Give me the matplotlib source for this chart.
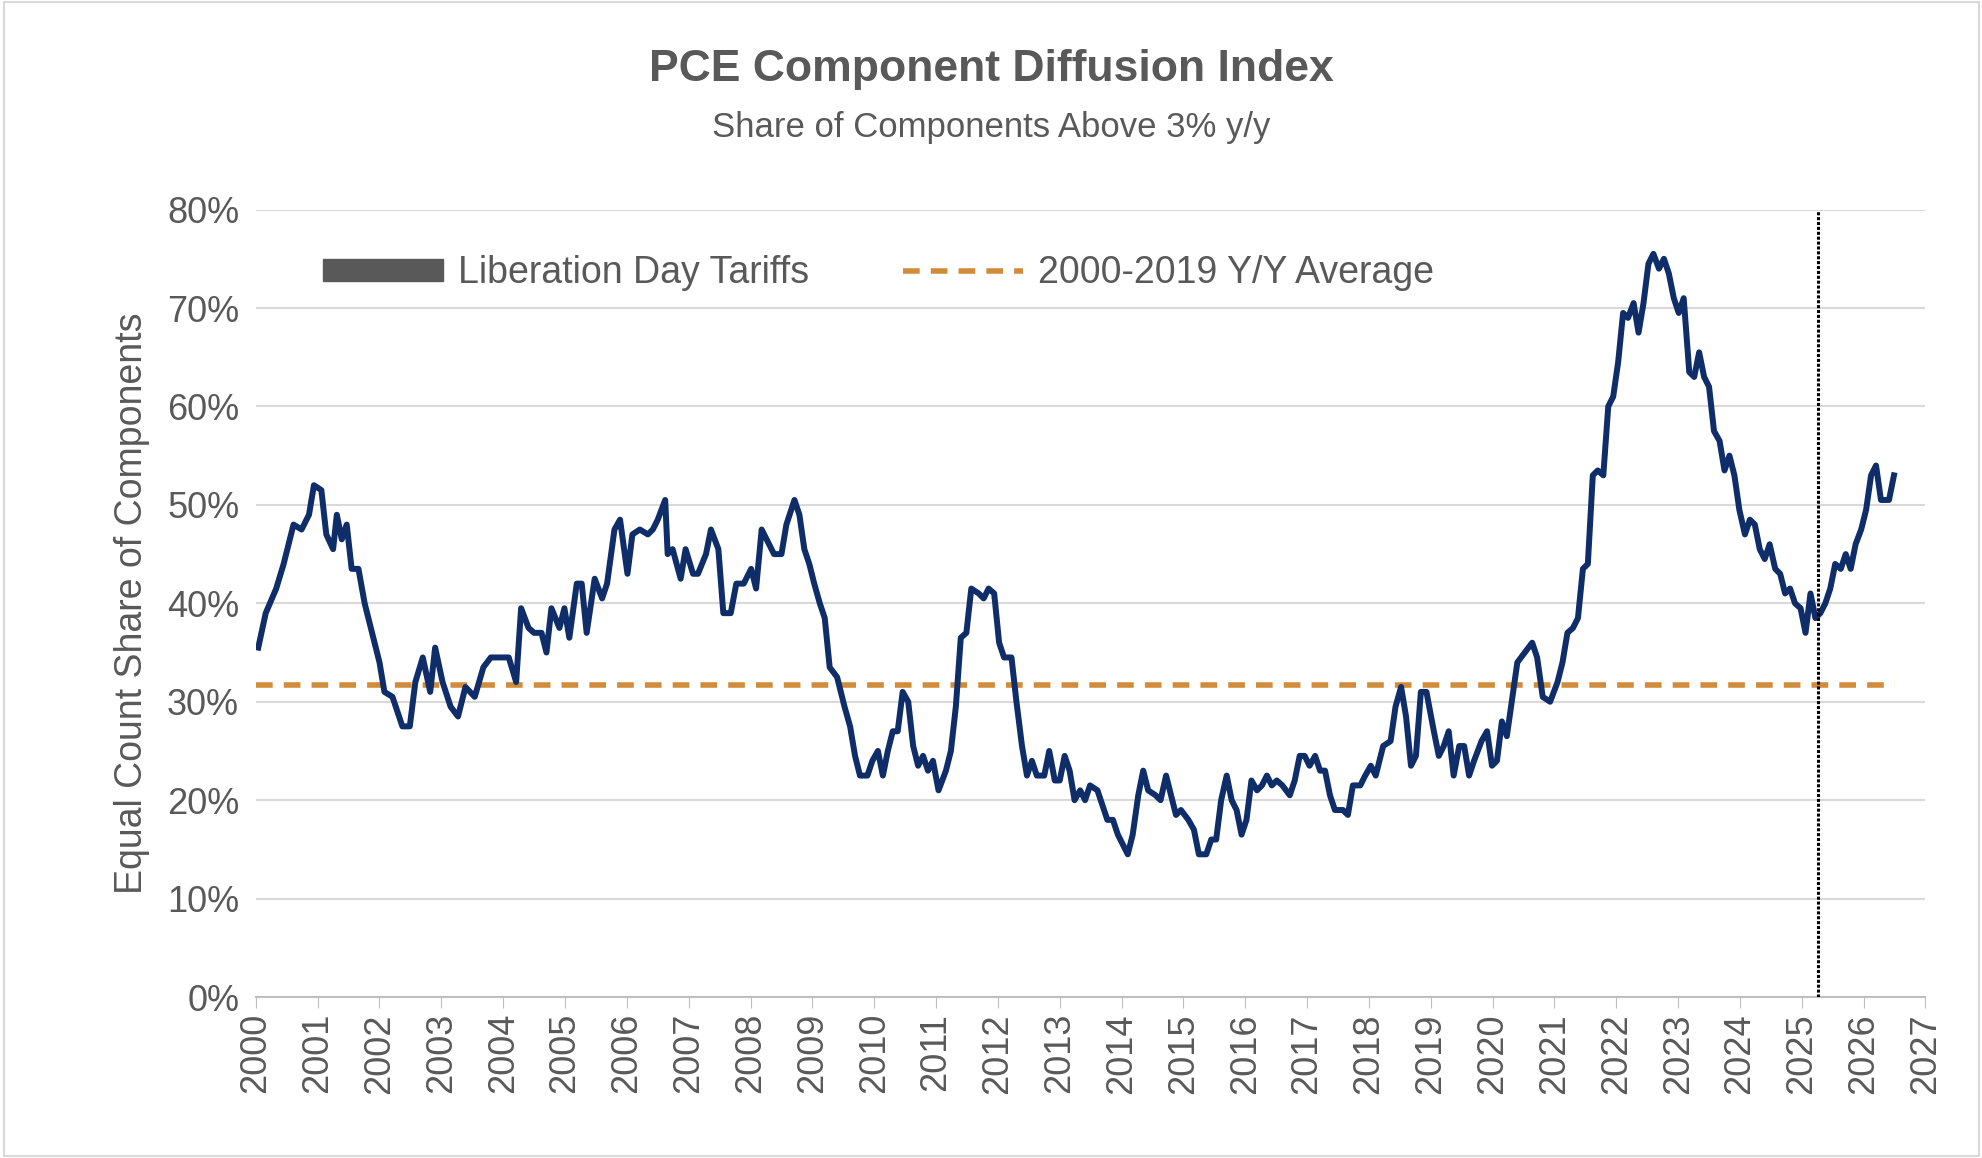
import numpy as np
from matplotlib import pyplot as plt
from matplotlib.lines import Line2D
from matplotlib.patches import Patch

plt.rcParams['font.family'] = ['Liberation Sans', 'DejaVu Sans']

# years since 2000 and share of components above 3% y/y (%)
t_years = [0.04, 0.16, 0.33, 0.45, 0.61, 0.74, 0.86, 0.94, 1.06, 1.14, 1.25, 1.31, 1.39, 1.47,
           1.55, 1.66, 1.76, 1.88, 2.00, 2.08, 2.21, 2.37, 2.49, 2.58, 2.70, 2.82, 2.90, 3.02,
           3.15, 3.27, 3.39, 3.54, 3.68, 3.80, 3.96, 4.09, 4.21, 4.29, 4.41, 4.50, 4.62, 4.70,
           4.78, 4.91, 4.99, 5.07, 5.19, 5.27, 5.35, 5.48, 5.60, 5.68, 5.80, 5.89, 6.01, 6.09,
           6.21, 6.34, 6.42, 6.50, 6.62, 6.66, 6.74, 6.87, 6.95, 7.07, 7.15, 7.28, 7.36, 7.48,
           7.56, 7.68, 7.77, 7.89, 8.01, 8.09, 8.18, 8.26, 8.38, 8.50, 8.58, 8.71, 8.79, 8.87,
           8.95, 9.03, 9.12, 9.20, 9.28, 9.40, 9.52, 9.61, 9.69, 9.77, 9.89, 9.97, 10.06, 10.14,
           10.22, 10.30, 10.38, 10.46, 10.55, 10.63, 10.71, 10.79, 10.87, 10.95, 11.04, 11.16,
           11.24, 11.32, 11.40, 11.49, 11.57, 11.69, 11.77, 11.85, 11.94, 12.02, 12.10, 12.22,
           12.30, 12.39, 12.47, 12.55, 12.63, 12.75, 12.83, 12.92, 13.00, 13.08, 13.16, 13.24,
           13.33, 13.41, 13.49, 13.61, 13.69, 13.77, 13.86, 13.94, 14.02, 14.10, 14.18, 14.27,
           14.35, 14.43, 14.55, 14.63, 14.72, 14.80, 14.88, 14.96, 15.08, 15.17, 15.25, 15.37,
           15.45, 15.53, 15.61, 15.70, 15.78, 15.86, 15.94, 16.02, 16.10, 16.19, 16.27, 16.35,
           16.43, 16.51, 16.60, 16.72, 16.80, 16.88, 16.96, 17.04, 17.13, 17.21, 17.29, 17.37,
           17.45, 17.58, 17.66, 17.74, 17.86, 17.94, 18.03, 18.11, 18.23, 18.35, 18.43, 18.52,
           18.60, 18.68, 18.76, 18.84, 18.93, 19.05, 19.13, 19.21, 19.29, 19.37, 19.46, 19.54,
           19.62, 19.70, 19.82, 19.91, 19.99, 20.07, 20.15, 20.23, 20.31, 20.40, 20.52, 20.64,
           20.72, 20.81, 20.93, 21.05, 21.13, 21.21, 21.30, 21.38, 21.46, 21.54, 21.62, 21.70,
           21.79, 21.87, 21.95, 22.03, 22.11, 22.19, 22.28, 22.36, 22.44, 22.52, 22.60, 22.69,
           22.77, 22.85, 22.93, 23.01, 23.09, 23.18, 23.26, 23.34, 23.42, 23.50, 23.58, 23.67,
           23.75, 23.83, 23.91, 23.99, 24.08, 24.16, 24.24, 24.32, 24.40, 24.48, 24.57, 24.65,
           24.73, 24.81, 24.89, 24.98, 25.06, 25.14, 25.22, 25.30, 25.38, 25.46, 25.54, 25.63,
           25.71, 25.79, 25.87, 25.96, 26.04, 26.12, 26.20, 26.28, 26.41, 26.49]
share = [35.5, 39, 41.5, 44, 48, 47.5, 49, 52, 51.5, 47, 45.5, 49, 46.5, 48,
         43.5, 43.5, 40, 37, 34, 31, 30.5, 27.5, 27.5, 32, 34.5, 31, 35.5, 32,
         29.5, 28.5, 31.5, 30.5, 33.5, 34.5, 34.5, 34.5, 32, 39.5, 37.5, 37, 37, 35,
         39.5, 37.5, 39.5, 36.5, 42, 42, 37, 42.5, 40.5, 42, 47.5, 48.5, 43, 47,
         47.5, 47, 47.5, 48.5, 50.5, 45, 45.5, 42.5, 45.5, 43, 43, 45, 47.5, 45.5,
         39, 39, 42, 42, 43.5, 41.5, 47.5, 46.5, 45, 45, 48, 50.5, 49, 45.5,
         44, 42, 40, 38.5, 33.5, 32.5, 29.5, 27.5, 24.5, 22.5, 22.5, 24, 25, 22.5,
         25, 27, 27, 31, 30, 25.5, 23.5, 24.5, 23, 24, 21, 23,
         25, 29.5, 36.5, 37, 41.5, 41, 40.5, 41.5, 41, 36, 34.5, 34.5,
         30, 25.5, 22.5, 24, 22.5, 22.5, 25, 22, 22, 24.5, 23, 20,
         21, 20, 21.5, 21, 19.5, 18, 18, 16.5, 15.5, 14.5, 16.5, 20.5,
         23, 21, 20.5, 20, 22.5, 20.5, 18.5, 19, 18, 17, 14.5, 14.5,
         16, 16, 20, 22.5, 20, 19, 16.5, 18, 22, 21, 21.5, 22.5,
         21.5, 22, 21.5, 20.5, 22, 24.5, 24.5, 23.5, 24.5, 23, 23, 20.5,
         19, 19, 18.5, 21.5, 21.5, 22.5, 23.5, 22.5, 25.5, 26, 29.5, 31.5,
         28.5, 23.5, 24.5, 31, 31, 27, 24.5, 25.5, 27, 22.5, 25.5, 25.5,
         22.5, 24, 26, 27, 23.5, 24, 28, 26.5, 30, 34, 35, 36,
         34.5, 30.5, 30, 32, 34, 37, 37.5, 38.5, 43.5, 44, 53, 53.5,
         53, 60, 61, 64.5, 69.5, 69, 70.5, 67.5, 70.5, 74.5, 75.5, 74,
         75, 73.5, 71, 69.5, 71, 63.5, 63, 65.5, 63, 62, 57.5, 56.5,
         53.5, 55, 53, 49.5, 47, 48.5, 48, 45.5, 44.5, 46, 43.5, 43,
         41, 41.5, 40, 39.5, 37, 41, 38.5, 39, 40, 41.5, 44, 43.5,
         45, 43.5, 46, 47.5, 49.5, 53, 54, 50.5, 50.5, 53]
avg_2000_2019 = 31.7
liberation_day = 2025.26
year_ticks = list(range(2000, 2028))

navy = "#0E2D69"
orange = "#D08C3A"
gray = "#595959"

fig = plt.figure(figsize=(19.83, 11.58), dpi=100)
fig.patches.append(plt.Rectangle((0.002, 0.002), 0.996, 0.996, transform=fig.transFigure,
                                 fill=False, edgecolor="#D9D9D9", linewidth=1.5))
ax = fig.add_axes([0.129, 0.139, 0.842, 0.680])

years = 2000 + np.array(t_years)
ax.plot(years, share, color=navy, linewidth=4.3, zorder=3)
ax.plot([2000, 2026.5], [avg_2000_2019] * 2, color=orange, linewidth=4,
        linestyle=(0, (3, 2)), zorder=2)
ax.axvline(liberation_day, color="black", linewidth=2.2, linestyle=(0, (1, 0.6)), zorder=4)

ax.set_xlim(2000, 2027)
ax.set_ylim(0, 80)
ax.set_xticks(year_ticks)
ax.set_xticklabels([str(y) for y in year_ticks], rotation=90)
ax.set_yticks(range(0, 81, 10))
ax.set_yticklabels([f"{v}%" for v in range(0, 81, 10)])
ax.tick_params(axis="both", labelsize=26, labelcolor=gray, length=0)
ax.tick_params(axis="x", length=8, color="#BFBFBF", direction="out")
ax.tick_params(axis="y", pad=12)
ax.grid(axis="y", color="#D9D9D9", linewidth=1.5)
ax.set_axisbelow(True)
for s in ["top", "right", "left"]:
    ax.spines[s].set_visible(False)
ax.spines["bottom"].set_color("#BFBFBF")
ax.spines["bottom"].set_linewidth(1.5)
ax.set_ylabel("Equal Count Share of Components", fontsize=27, color=gray, labelpad=12)

handles = [Patch(facecolor=gray, edgecolor=gray),
           Line2D([0], [0], color=orange, linewidth=4, linestyle=(0, (3, 2)))]
ax.legend(handles, ["Liberation Day Tariffs", "2000-2019 Y/Y Average"], loc="upper left",
          bbox_to_anchor=(0.02, 0.985), ncol=2, frameon=False, fontsize=27,
          labelcolor=gray, handlelength=3.2, handleheight=0.5, handletextpad=0.4,
          columnspacing=2.5)

fig.text(0.5, 0.94, "PCE Component Diffusion Index", ha="center", va="center",
         fontsize=32, fontweight="bold", color=gray)
fig.text(0.5, 0.89, "Share of Components Above 3% y/y", ha="center", va="center",
         fontsize=25, color=gray)

fig.savefig("out.png", dpi=100)
